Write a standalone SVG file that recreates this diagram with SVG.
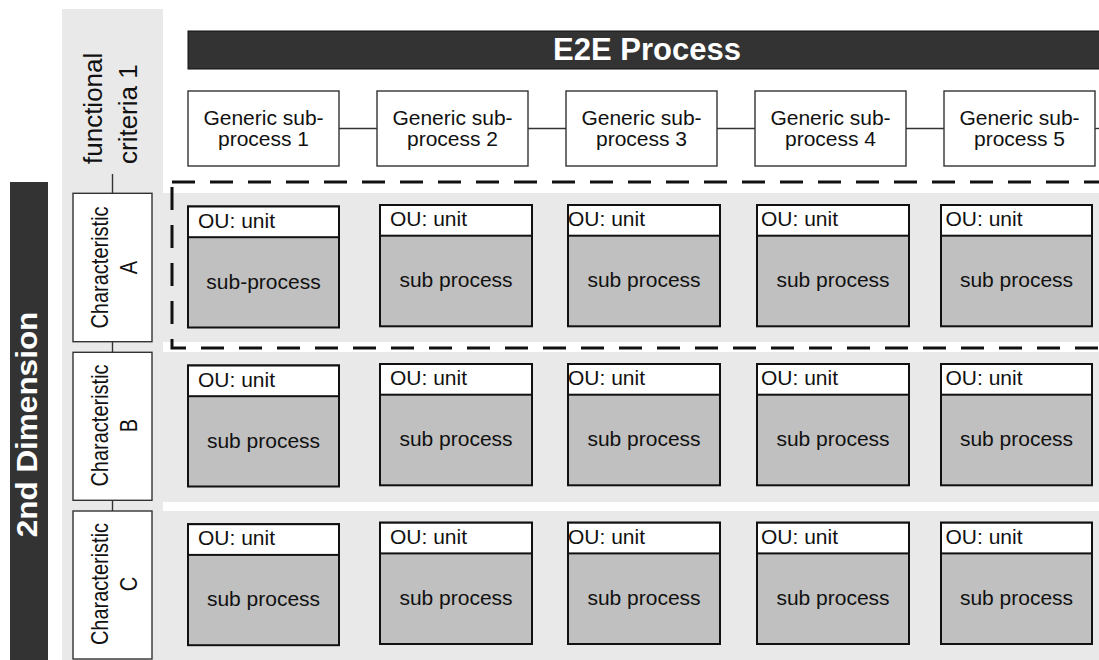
<svg xmlns="http://www.w3.org/2000/svg" width="1099" height="660" viewBox="0 0 1099 660">
  <style>
    .band { fill: #e9e9e9; }
    .dark { fill: #333333; stroke: #111111; stroke-width: 1; }
    .gbox { fill: #ffffff; stroke: #333333; stroke-width: 1.4; }
    .cbox { fill: #ffffff; stroke: #333333; stroke-width: 1.4; }
    .ou { fill: #ffffff; stroke: #111111; stroke-width: 2; }
    .sp { fill: #c0c0c0; stroke: #111111; stroke-width: 2; }
    .conn { stroke: #333333; stroke-width: 1.4; fill: none; }
    .dash { stroke: #111111; stroke-width: 3; fill: none; stroke-dasharray: 23 15; }
    text { font-family: "Liberation Sans", Arial, sans-serif; fill: #111111; }
    .t21 { font-size: 21px; }
    .mid { text-anchor: middle; }
    .head { font-weight: bold; fill: #ffffff; }
    .rot { font-size: 20px; text-anchor: middle; }
  </style>

  <!-- backgrounds -->
  <rect width="1099" height="660" fill="#ffffff"/>
  <rect class="band" x="62" y="9" width="101" height="651"/>
  <rect class="band" x="163" y="193" width="936" height="149"/>
  <rect class="band" x="163" y="352" width="936" height="150"/>
  <rect class="band" x="163" y="511" width="936" height="149"/>

  <!-- vertical dimension bar -->
  <g id="dimension">
    <rect x="10" y="182" width="38" height="480" fill="#333333"/>
    <text class="head mid" font-size="30" transform="translate(37,424.5) rotate(-90) scale(1.05,1)">2nd Dimension</text>
  </g>

  <!-- process header -->
  <g id="e2e">
    <rect class="dark" x="188" y="31" width="915" height="38"/>
    <text class="head mid" font-size="31" x="647" y="59.5">E2E Process</text>
  </g>

  <!-- functional criteria label -->
  <g id="criteria">
    <text font-size="26" transform="translate(101.7,164) rotate(-90)">functional</text>
    <text font-size="26" transform="translate(136.7,164) rotate(-90)">criteria 1</text>
  </g>

  <!-- connectors -->
  <g id="connectors">
    <line class="conn" x1="339" y1="128.5" x2="377" y2="128.5"/>
    <line class="conn" x1="528" y1="128.5" x2="566" y2="128.5"/>
    <line class="conn" x1="717" y1="128.5" x2="755" y2="128.5"/>
    <line class="conn" x1="906" y1="128.5" x2="944" y2="128.5"/>
    <line class="conn" x1="1095" y1="128.5" x2="1099" y2="128.5"/>
    <line class="conn" x1="112.5" y1="174" x2="112.5" y2="193.3"/>
    <line class="conn" x1="112.5" y1="341.7" x2="112.5" y2="352.3"/>
    <line class="conn" x1="112.5" y1="500.3" x2="112.5" y2="511"/>
  </g>

  <!-- generic sub-processes -->
  <g id="generic1">
    <rect class="gbox" x="188" y="91" width="151" height="75"/>
    <text class="t21 mid" x="263.5" y="124.5">Generic sub-</text>
    <text class="t21 mid" x="263.5" y="145.5">process 1</text>
  </g>
  <g id="generic2">
    <rect class="gbox" x="377" y="91" width="151" height="75"/>
    <text class="t21 mid" x="452.5" y="124.5">Generic sub-</text>
    <text class="t21 mid" x="452.5" y="145.5">process 2</text>
  </g>
  <g id="generic3">
    <rect class="gbox" x="566" y="91" width="151" height="75"/>
    <text class="t21 mid" x="641.5" y="124.5">Generic sub-</text>
    <text class="t21 mid" x="641.5" y="145.5">process 3</text>
  </g>
  <g id="generic4">
    <rect class="gbox" x="755" y="91" width="151" height="75"/>
    <text class="t21 mid" x="830.5" y="124.5">Generic sub-</text>
    <text class="t21 mid" x="830.5" y="145.5">process 4</text>
  </g>
  <g id="generic5">
    <rect class="gbox" x="944" y="91" width="151" height="75"/>
    <text class="t21 mid" x="1019.5" y="124.5">Generic sub-</text>
    <text class="t21 mid" x="1019.5" y="145.5">process 5</text>
  </g>

  <!-- characteristics -->
  <g id="charA">
    <rect class="cbox" x="73" y="193.3" width="79" height="148.4"/>
    <text class="rot" transform="translate(108.3,267.5) rotate(-90) scale(1,1.18)">Characteristic</text>
    <text class="rot" transform="translate(136.7,267.5) rotate(-90) scale(1,1.18)">A</text>
  </g>
  <g id="charB">
    <rect class="cbox" x="73" y="352.3" width="79" height="148"/>
    <text class="rot" transform="translate(108.3,425.5) rotate(-90) scale(1,1.18)">Characteristic</text>
    <text class="rot" transform="translate(136.7,425.5) rotate(-90) scale(1,1.18)">B</text>
  </g>
  <g id="charC">
    <rect class="cbox" x="73" y="511" width="79" height="148"/>
    <text class="rot" transform="translate(108.3,584) rotate(-90) scale(1,1.18)">Characteristic</text>
    <text class="rot" transform="translate(136.7,584) rotate(-90) scale(1,1.18)">C</text>
  </g>

  <!-- highlighted row A -->
  <rect id="highlight" class="dash" x="172" y="182" width="950" height="166"/>

  <!-- row A -->
  <g id="a1"><rect class="sp" x="188" y="206.5" width="151" height="121"/><rect class="ou" x="188" y="206.5" width="151" height="30.7"/>
    <text class="t21" x="198" y="227.5">OU: unit</text><text class="t21 mid" x="263.5" y="288.5">sub-process</text></g>
  <g id="a2"><rect class="sp" x="380" y="205" width="152" height="121.3"/><rect class="ou" x="380" y="205" width="152" height="30.7"/>
    <text class="t21" x="390" y="226">OU: unit</text><text class="t21 mid" x="456" y="287">sub process</text></g>
  <g id="a3"><rect class="sp" x="568" y="205" width="152" height="121.3"/><rect class="ou" x="568" y="205" width="152" height="30.7"/>
    <text class="t21" x="568" y="226">OU: unit</text><text class="t21 mid" x="644" y="287">sub process</text></g>
  <g id="a4"><rect class="sp" x="757" y="205" width="152" height="121.3"/><rect class="ou" x="757" y="205" width="152" height="30.7"/>
    <text class="t21" x="761" y="226">OU: unit</text><text class="t21 mid" x="833" y="287">sub process</text></g>
  <g id="a5"><rect class="sp" x="941" y="205" width="151" height="121.3"/><rect class="ou" x="941" y="205" width="151" height="30.7"/>
    <text class="t21" x="945.5" y="226">OU: unit</text><text class="t21 mid" x="1016.5" y="287">sub process</text></g>

  <!-- row B -->
  <g id="b1"><rect class="sp" x="188" y="365.5" width="151" height="121"/><rect class="ou" x="188" y="365.5" width="151" height="30.7"/>
    <text class="t21" x="198" y="386.5">OU: unit</text><text class="t21 mid" x="263.5" y="447.5">sub process</text></g>
  <g id="b2"><rect class="sp" x="380" y="364" width="152" height="121.3"/><rect class="ou" x="380" y="364" width="152" height="30.7"/>
    <text class="t21" x="390" y="385">OU: unit</text><text class="t21 mid" x="456" y="446">sub process</text></g>
  <g id="b3"><rect class="sp" x="568" y="364" width="152" height="121.3"/><rect class="ou" x="568" y="364" width="152" height="30.7"/>
    <text class="t21" x="568" y="385">OU: unit</text><text class="t21 mid" x="644" y="446">sub process</text></g>
  <g id="b4"><rect class="sp" x="757" y="364" width="152" height="121.3"/><rect class="ou" x="757" y="364" width="152" height="30.7"/>
    <text class="t21" x="761" y="385">OU: unit</text><text class="t21 mid" x="833" y="446">sub process</text></g>
  <g id="b5"><rect class="sp" x="941" y="364" width="151" height="121.3"/><rect class="ou" x="941" y="364" width="151" height="30.7"/>
    <text class="t21" x="945.5" y="385">OU: unit</text><text class="t21 mid" x="1016.5" y="446">sub process</text></g>

  <!-- row C -->
  <g id="c1"><rect class="sp" x="188" y="524.2" width="151" height="121"/><rect class="ou" x="188" y="524.2" width="151" height="30.7"/>
    <text class="t21" x="198" y="545.2">OU: unit</text><text class="t21 mid" x="263.5" y="606.2">sub process</text></g>
  <g id="c2"><rect class="sp" x="380" y="522.7" width="152" height="121.3"/><rect class="ou" x="380" y="522.7" width="152" height="30.7"/>
    <text class="t21" x="390" y="543.7">OU: unit</text><text class="t21 mid" x="456" y="604.7">sub process</text></g>
  <g id="c3"><rect class="sp" x="568" y="522.7" width="152" height="121.3"/><rect class="ou" x="568" y="522.7" width="152" height="30.7"/>
    <text class="t21" x="568" y="543.7">OU: unit</text><text class="t21 mid" x="644" y="604.7">sub process</text></g>
  <g id="c4"><rect class="sp" x="757" y="522.7" width="152" height="121.3"/><rect class="ou" x="757" y="522.7" width="152" height="30.7"/>
    <text class="t21" x="761" y="543.7">OU: unit</text><text class="t21 mid" x="833" y="604.7">sub process</text></g>
  <g id="c5"><rect class="sp" x="941" y="522.7" width="151" height="121.3"/><rect class="ou" x="941" y="522.7" width="151" height="30.7"/>
    <text class="t21" x="945.5" y="543.7">OU: unit</text><text class="t21 mid" x="1016.5" y="604.7">sub process</text></g>
</svg>
